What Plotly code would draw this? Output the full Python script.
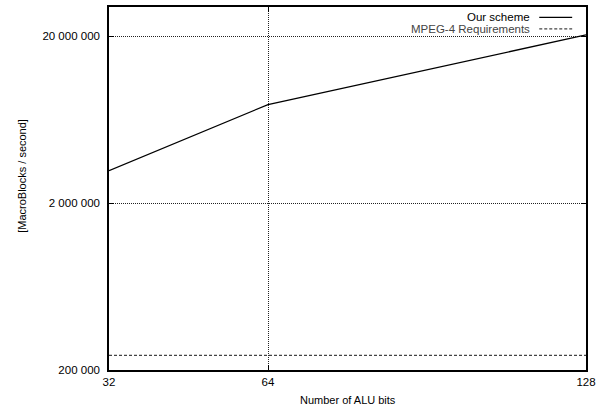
import plotly.graph_objects as go

alu_bits = [32, 64, 128]
our_scheme = [3.13e6, 7.8e6, 20.4e6]
mpeg4_req = [244800, 244800, 244800]

x_ticks = [32, 64, 128]
y_ticks = [2e5, 2e6, 2e7]
y_ticklabels = ["200 000", "2 000 000", "20 000 000"]

FAM = "Liberation Sans, Arial, sans-serif"

fig = go.Figure()
fig.add_trace(go.Scatter(x=alu_bits, y=our_scheme, mode="lines", name="Our scheme",
                         line=dict(color="black", width=1.3), showlegend=False))
fig.add_trace(go.Scatter(x=alu_bits, y=mpeg4_req, mode="lines", name="MPEG-4 Requirements",
                         line=dict(color="#444444", width=1.1, dash="3px,2px"), showlegend=False))

fig.update_layout(
    width=603, height=408,
    margin=dict(l=109, r=17, t=5, b=38),
    paper_bgcolor="white", plot_bgcolor="white",
    font=dict(family=FAM, size=11.5, color="black"),
    xaxis=dict(type="linear", range=[32, 128], tickvals=x_ticks, ticktext=[str(v) for v in x_ticks],
               showgrid=True, gridcolor="#222222", griddash="1px,1px", gridwidth=1,
               showline=True, linecolor="black", linewidth=1.5, mirror="ticks",
               ticks="inside", ticklen=5, tickcolor="black", zeroline=False,
               tickfont=dict(family=FAM, size=11.5, color="black")),
    yaxis=dict(type="log", range=[5.30103, 7.4771], tickvals=y_ticks, ticktext=y_ticklabels,
               showgrid=True, gridcolor="#222222", griddash="1px,1px", gridwidth=1,
               showline=True, linecolor="black", linewidth=1.5, mirror="ticks",
               ticks="inside", ticklen=5, tickcolor="black", zeroline=False,
               ticklabelstandoff=5,
               tickfont=dict(family=FAM, size=11.5, color="black")),
)

# axis titles
fig.add_annotation(text="Number of ALU bits", xref="paper", yref="paper", x=0.5, y=0,
                   yshift=-30, showarrow=False, xanchor="center", yanchor="middle",
                   font=dict(family=FAM, size=11, color="black"))
fig.add_annotation(text="[MacroBlocks / second]", xref="paper", yref="paper", x=0, xshift=-87,
                   y=0.535, showarrow=False, textangle=-90, xanchor="center", yanchor="middle",
                   font=dict(family=FAM, size=11, color="black"))

# key (gnuplot style: text then sample)
names = ["Our scheme", "MPEG-4 Requirements"]
colors = ["black", "#444444"]
dashes = ["solid", "3px,2px"]
ys = [0.9715, 0.9397]
for nm, c, d, yy in zip(names, colors, dashes, ys):
    fig.add_annotation(text=nm, xref="paper", yref="paper", x=0.887, y=yy, showarrow=False,
                       xanchor="right", yanchor="middle",
                       font=dict(family=FAM, size=11.5, color=c))
    fig.add_shape(type="line", xref="paper", yref="paper", x0=0.902, x1=0.971, y0=yy, y1=yy,
                  line=dict(color=c, width=1.3 if d == "solid" else 1.1, dash=d))

fig.write_html("out.html", config={"displayModeBar": False})

with open("out.html", "r", encoding="utf-8") as f:
    html = f.read()
html = html.replace("<head>", "<head><style>html,body{margin:0;padding:0;overflow:hidden;}</style>", 1)
with open("out.html", "w", encoding="utf-8") as f:
    f.write(html)
